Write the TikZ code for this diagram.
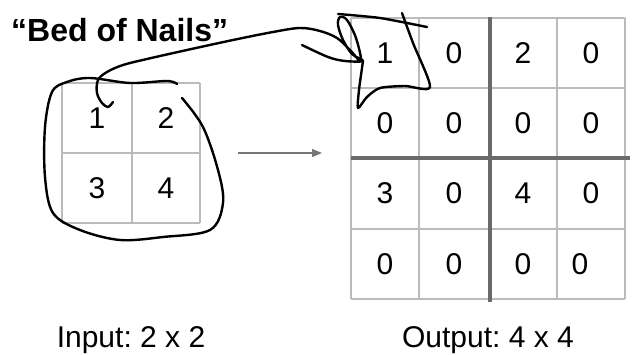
\documentclass[tikz,border=0pt]{standalone}
\usepackage{fontspec}
\setmainfont{Liberation Sans}
\usetikzlibrary{arrows.meta}
\definecolor{gridgray}{HTML}{BBBBBB}
\definecolor{bargray}{HTML}{6A6A6A}
\definecolor{arrowgray}{HTML}{777777}
\frenchspacing
\begin{document}
\begin{tikzpicture}[x=1pt,y=-1pt,
  gridline/.style={draw=gridgray,line width=1.6pt},
  barline/.style={draw=bargray,line width=4pt},
  num/.style={font=\fontsize{30}{36}\selectfont,inner sep=0pt},
  caption/.style={font=\fontsize{30}{36}\selectfont,inner sep=0pt,anchor=base},
  pen/.style={draw=black,line width=2.4pt,line cap=round,line join=round},
  frame/.style={inner sep=0pt,outer sep=0pt}]
\useasboundingbox (0,0) rectangle (634,355);

% frames of the two grids
\node[frame,minimum width=138pt,minimum height=140pt] (ingrid) at (131,153) {};
\node[frame,minimum width=274pt,minimum height=281pt] (outgrid) at (488,158.5) {};

% input 2x2 grid
\foreach \x in {62,132,200} \draw[gridline] (\x,83) -- (\x,223);
\foreach \y in {83,153,223} \draw[gridline] (62,\y) -- (200,\y);

% output 4x4 grid
\foreach \x in {351,419,557,625} \draw[gridline] (\x,18) -- (\x,299);
\foreach \y in {18,88,229,299} \draw[gridline] (351,\y) -- (625,\y);
\draw[barline] (351,158) -- (630,158);
\draw[barline] (490,17) -- (490,302);

% input values
\node[num] (i1) at (97,118) {1};
\node[num] (i2) at (166,118) {2};
\node[num] (i3) at (97,188) {3};
\node[num] (i4) at (166,188) {4};

% output values
\node[num] (o11) at (385,53) {1};
\node[num] (o12) at (454,53) {0};
\node[num] (o13) at (523,53) {2};
\node[num] (o14) at (591,53) {0};
\node[num] (o21) at (385,123) {0};
\node[num] (o22) at (454,123) {0};
\node[num] (o23) at (523,123) {0};
\node[num] (o24) at (591,123) {0};
\node[num] (o31) at (385,193.5) {3};
\node[num] (o32) at (454,193.5) {0};
\node[num] (o33) at (523,193.5) {4};
\node[num] (o34) at (591,193.5) {0};
\node[num] (o41) at (385,264) {0};
\node[num] (o42) at (454,264) {0};
\node[num] (o43) at (523,264) {0};
\node[num] (o44) at (580,264) {0};

% arrow between the grids
\draw[draw=arrowgray,line width=1.2pt,-{Triangle[length=10pt,width=8pt]},
  shorten <=38pt,shorten >=29pt] (ingrid.east) -- (outgrid.west |- ingrid.east);

% title and captions
\node[font=\fontsize{32}{36}\selectfont\bfseries,inner sep=0pt,anchor=base west] (title) at (11,42) {“Bed of Nails”};
\node[caption] (incap) at (131,347) {Input: 2 x 2};
\node[caption] (outcap) at (488,347) {Output: 4 x 4};

% hand-drawn loop around the input
\draw[pen] plot[smooth,tension=0.55] coordinates {
  (182,98) (203,127) (218,170) (223,203) (210,230) (163,237) (120,240)
  (80,230) (53,213) (45,177) (45,127) (52,92) (67,82) (90,78) (130,83)
  (167,81) (177,84)};

% hand-drawn stroke from the 1 to the output corner
\draw[pen] plot[smooth,tension=0.55] coordinates {
  (113,102) (108,107) (102,103) (97,93) (98,80) (107,72) (123,65) (147,59)
  (187,50) (233,40) (273,32) (300,28) (320,31) (337,38) (350,50) (361,61)
  (356,38) (347,20) (340,17) (338,25) (343,40) (352,54) (363,61)
  (345,61) (328,57) (302,45)};

% hand-drawn frame round the output 1
\draw[pen] plot[smooth,tension=0.4] coordinates {(338,14) (380,18) (427,27)};
\draw[pen] plot[smooth,tension=0.45] coordinates {
  (402,13) (413,43) (430,87) (405,86) (380,88) (367,97) (358,108)
  (359,90) (361,75) (363,61)};
\end{tikzpicture}
\end{document}
